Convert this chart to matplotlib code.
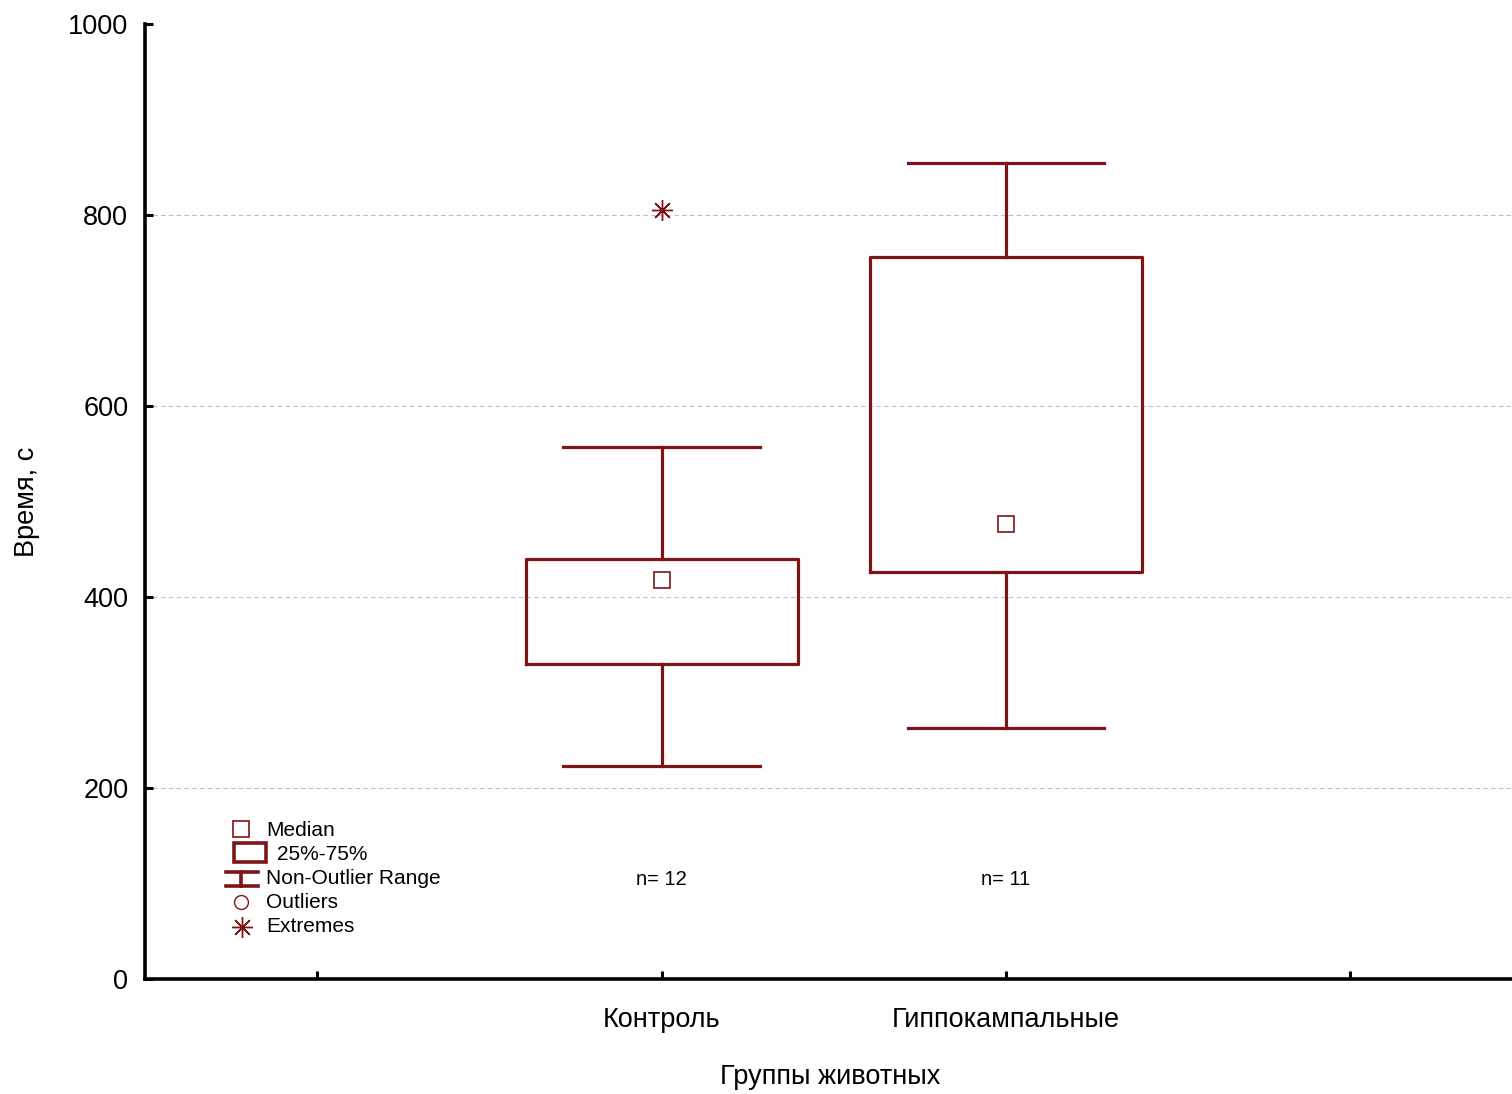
import matplotlib
matplotlib.use("Agg")
import matplotlib.pyplot as plt
from matplotlib.patches import Rectangle

# === Data ===
groups = ["Контроль", "Гиппокампальные"]
positions = [1, 2]
counts = [12, 11]
medians = [418, 476]
q1 = [330, 426]
q3 = [440, 756]
whisker_lo = [223, 263]
whisker_hi = [557, 854]
extremes = [[805], []]

y_ticks = [0, 200, 400, 600, 800, 1000]
grid_levels = [200, 400, 600, 800]

RED = "#7d1416"

plt.rcParams["font.family"] = ["Liberation Sans", "DejaVu Sans"]

fig = plt.figure(figsize=(15.12, 10.94), dpi=100)
ax = fig.add_axes([145 / 1512, 1 - 979 / 1094, 1 - 145 / 1512, (979 - 24) / 1094])

stats = []
for i in range(len(groups)):
    stats.append({
        "med": medians[i], "q1": q1[i], "q3": q3[i],
        "whislo": whisker_lo[i], "whishi": whisker_hi[i],
        "fliers": extremes[i], "label": groups[i],
    })

line = dict(color=RED, linewidth=2.3)
ax.bxp(stats, positions=positions, widths=0.79, capwidths=0.57,
       boxprops=line, whiskerprops=line, capprops=line,
       medianprops=dict(linewidth=0),
       flierprops=dict(marker=(8, 2, 0), markersize=15, markeredgecolor=RED,
                       markeredgewidth=1.0, linestyle="none"),
       zorder=3)

# median squares
ax.plot(positions, medians, linestyle="none", marker="s", markersize=11,
        markerfacecolor="white", markeredgecolor=RED, markeredgewidth=1.2, zorder=4)

# n= labels
for p, n in zip(positions, counts):
    ax.text(p, 104, f"n= {n}", ha="center", va="center", fontsize=14.5)

# grid
for g in grid_levels:
    ax.axhline(g, color="#c0c0c0", linestyle=(0, (4, 3)), linewidth=0.8, zorder=1)

ax.set_ylim(0, 1000)
ax.set_xlim(-0.5, 3.469)
ax.set_yticks(y_ticks)
ax.set_xticks([0, 1, 2, 3])
ax.set_xticklabels(["", groups[0], groups[1], ""])
ax.tick_params(axis="both", direction="in", length=6, width=2.2, labelsize=19.5)
ax.tick_params(axis="y", pad=12)
ax.tick_params(axis="x", pad=20)

for s in ["top", "right"]:
    ax.spines[s].set_visible(False)
for s in ["left", "bottom"]:
    ax.spines[s].set_linewidth(2.6)

ax.set_ylabel("Время, с", fontsize=19.5, va="center")
ax.yaxis.set_label_coords(-(145 - 27) / (1512 - 145), 0.5)
ax.set_xlabel("Группы животных", fontsize=19.5, va="center")
ax.xaxis.set_label_coords((830 - 145) / (1512 - 145), -(1077 - 979) / (979 - 24))

# === Legend (drawn by hand in figure pixels) ===
def fx(px):
    return px / 1512

def fy(py):
    return 1 - py / 1094

ft = fig.transFigure
fig.lines.append(plt.Line2D([fx(241)], [fy(829)], marker="s", markersize=11,
                            markerfacecolor="white", markeredgecolor=RED,
                            markeredgewidth=1.2, transform=ft))
fig.patches.append(Rectangle((fx(234), fy(862)), fx(32), (862 - 843) / 1094,
                             fill=False, edgecolor=RED, linewidth=2.6, transform=ft))
fig.lines.append(plt.Line2D([fx(226), fx(258)], [fy(872), fy(872)], color=RED, lw=2.6, transform=ft))
fig.lines.append(plt.Line2D([fx(226), fx(258)], [fy(886), fy(886)], color=RED, lw=2.6, transform=ft))
fig.lines.append(plt.Line2D([fx(241), fx(241)], [fy(872), fy(886)], color=RED, lw=2.6, transform=ft))
fig.lines.append(plt.Line2D([fx(241)], [fy(902)], marker="o", markersize=10,
                            markerfacecolor="white", markeredgecolor=RED,
                            markeredgewidth=1.0, transform=ft))
fig.lines.append(plt.Line2D([fx(242)], [fy(927)], marker=(8, 2, 0), markersize=15,
                            markeredgecolor=RED, markeredgewidth=1.0, transform=ft))

legend_items = [("Median", 266, 830), ("25%-75%", 277, 854),
                ("Non-Outlier Range", 266, 878), ("Outliers", 266, 902),
                ("Extremes", 266, 927)]
for txt, x, y in legend_items:
    fig.text(fx(x), fy(y), txt, ha="left", va="center", fontsize=15)

fig.savefig("out.png", dpi=100)
